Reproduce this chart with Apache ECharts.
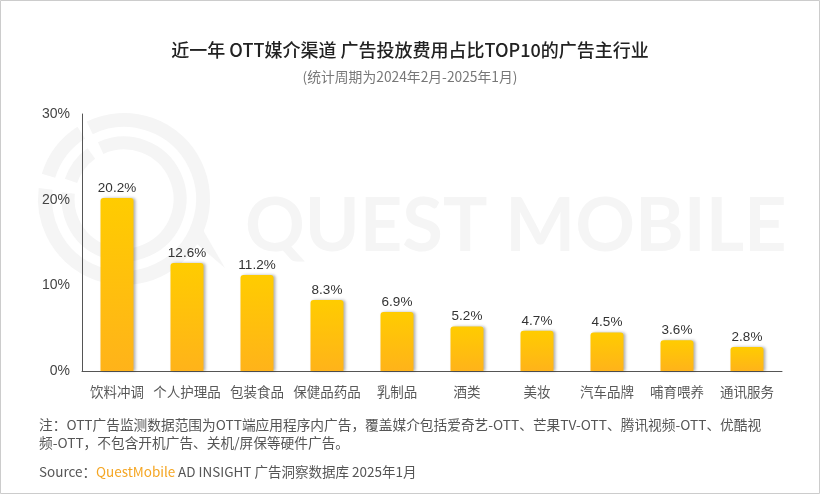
<!DOCTYPE html>
<html>
<head>
<meta charset="utf-8">
<style>
html,body{margin:0;padding:0;background:#fff;}
#main{width:820px;height:494px;}
</style>
<script src="https://cdn.jsdelivr.net/npm/echarts@6/dist/echarts.min.js"></script>
</head>
<body>
<div id="main"></div>
<script>
var categories = ['饮料冲调', '个人护理品', '包装食品', '保健品药品', '乳制品', '酒类', '美妆', '汽车品牌', '哺育喂养', '通讯服务'];
var shares = [20.2, 12.6, 11.2, 8.3, 6.9, 5.2, 4.7, 4.5, 3.6, 2.8];
var yTicks = [0, 10, 20, 30];

var cjk = '"Noto Sans CJK SC", "Noto Sans", sans-serif';
var latin = '"Liberation Sans", "Noto Sans CJK SC", sans-serif';
var mark = '#f5f5f5';

// 水印圆环
function ring(r, width, start, end) {
	return {
		type: 'arc', z: -9,
		shape: { cx: 124, cy: 199, r: r, startAngle: start, endAngle: end },
		style: { fill: 'none', stroke: mark, lineWidth: width }
	};
}

var myChart = echarts.init(document.getElementById('main'));
var option = {
	animation: false,
	backgroundColor: '#fff',
	title: {
		text: '近一年 OTT媒介渠道 广告投放费用占比TOP10的广告主行业',
		subtext: '(统计周期为2024年2月-2025年1月)',
		left: 'center',
		top: 36,
		itemGap: 11,
		textStyle: { fontFamily: cjk, fontSize: 18, fontWeight: 500, color: '#222' },
		subtextStyle: { fontFamily: cjk, fontSize: 13.8, color: '#777' }
	},
	grid: { left: 82, right: 38, top: 114, bottom: 123 },
	xAxis: {
		type: 'category',
		data: categories,
		offset: 1,
		axisTick: { show: false },
		axisLine: { lineStyle: { color: '#555', width: 1 } },
		axisLabel: { interval: 0, margin: 13, fontFamily: cjk, fontSize: 13.5, color: '#595959' }
	},
	yAxis: {
		type: 'value',
		min: yTicks[0],
		max: yTicks[yTicks.length - 1],
		interval: 10,
		splitLine: { show: false },
		axisTick: { show: false },
		axisLine: { show: true, lineStyle: { color: '#555', width: 1 } },
		axisLabel: { margin: 12, fontFamily: latin, fontSize: 14, color: '#444', formatter: '{value}%' }
	},
	series: [{
		type: 'bar',
		data: shares,
		barWidth: 33,
		z: 3,
		itemStyle: {
			borderRadius: [3, 3, 0, 0],
			color: new echarts.graphic.LinearGradient(0, 0, 0, 1, [
				{ offset: 0, color: '#ffcc00' },
				{ offset: 1, color: '#ffb31a' }
			]),
			shadowColor: 'rgba(0,0,0,0.3)',
			shadowBlur: 3,
			shadowOffsetX: 2
		},
		label: {
			show: true,
			position: 'top',
			distance: 3,
			fontFamily: latin,
			fontSize: 13.5,
			color: '#333',
			formatter: '{c}%'
		}
	}],
	graphic: [
		// 外框
		{ type: 'rect', z: -10, shape: { x: 0.5, y: 0.5, width: 819, height: 493 }, style: { fill: 'none', stroke: '#ccc', lineWidth: 1 } },
		// 水印
		ring(79, 14, -2.02, 3.27),
		ring(79, 14, 3.44, 4.14),
		ring(56, 13, -2.0, 3.25),
		ring(56, 13, 3.47, 4.09),
		{ type: 'polygon', z: -9, shape: { points: [[190, 238], [203, 230], [225, 268]] }, style: { fill: mark } },
		{ type: 'text', z: -9, left: 245, top: 190, style: { text: 'QUEST MOBILE', fontFamily: 'Lato, sans-serif', fontSize: 74, fontWeight: 'bold', fill: mark } },
		// 注释
		{ type: 'text', left: 39, top: 418, style: { text: '注：OTT广告监测数据范围为OTT端应用程序内广告，覆盖媒介包括爱奇艺-OTT、芒果TV-OTT、腾讯视频-OTT、优酷视', fontFamily: cjk, fontSize: 13.7, fill: '#555' } },
		{ type: 'text', left: 39, top: 436, style: { text: '频-OTT，不包含开机广告、关机/屏保等硬件广告。', fontFamily: cjk, fontSize: 13.7, fill: '#555' } },
		{ type: 'text', left: 39, top: 465, style: { text: 'Source：', fontFamily: cjk, fontSize: 13.5, fill: '#555' } },
		{ type: 'text', left: 96, top: 465, style: { text: 'QuestMobile', fontFamily: cjk, fontSize: 13.5, fill: '#f5a623' } },
		{ type: 'text', left: 178, top: 465, style: { text: 'AD INSIGHT 广告洞察数据库 2025年1月', fontFamily: cjk, fontSize: 13.5, fill: '#555' } }
	]
};
myChart.setOption(option);
</script>
</body>
</html>
